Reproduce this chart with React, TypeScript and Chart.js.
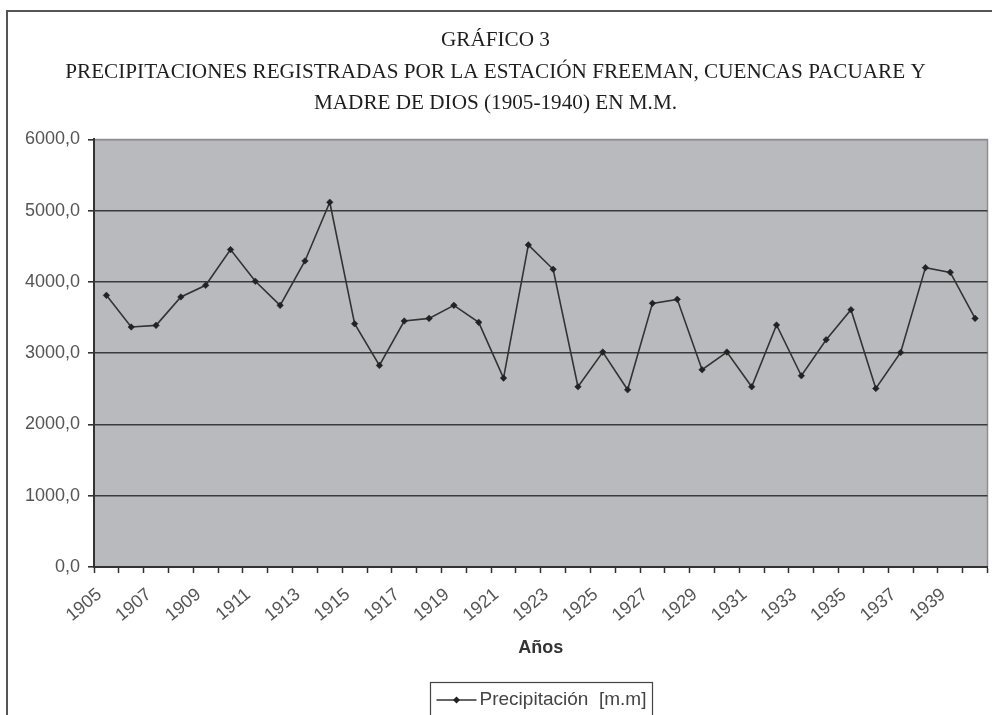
import React, { useEffect, useRef } from 'react';
import { Chart, registerables } from 'chart.js';

Chart.register(...registerables);

const titleLines = [
  'GRÁFICO 3',
  'PRECIPITACIONES REGISTRADAS POR LA ESTACIÓN FREEMAN, CUENCAS PACUARE Y',
  'MADRE DE DIOS (1905-1940) EN M.M.',
];

const years = [
  '1905', '1906', '1907', '1908', '1909', '1910', '1911', '1912', '1913', '1914',
  '1915', '1916', '1917', '1918', '1919', '1920', '1921', '1922', '1923', '1924',
  '1925', '1926', '1927', '1928', '1929', '1930', '1931', '1932', '1933', '1934',
  '1935', '1936', '1937', '1938', '1939', '1940',
];

const shownYears = [
  '1905', '1907', '1909', '1911', '1913', '1915', '1917', '1919', '1921',
  '1923', '1925', '1927', '1929', '1931', '1933', '1935', '1937', '1939',
];

const precipitation = [
  3812, 3368, 3391, 3790, 3953, 4454, 4009, 3672, 4295, 5119,
  3414, 2829, 3452, 3489, 3672, 3433, 2651, 4520, 4178, 2529,
  3016, 2487, 3700, 3756, 2768, 3016, 2529, 3396, 2684, 3190,
  3611, 2505, 3011, 4201, 4135, 3489,
];

const yTicks = [0, 1000, 2000, 3000, 4000, 5000, 6000];

const seriesLabel = 'Precipitación  [m.m]';
const xAxisTitle = 'Años';

const SANS = '"Liberation Sans", Arial, sans-serif';
const SERIF = '"Liberation Serif", "Times New Roman", serif';

const framePlugin = {
  id: 'framePlugin',
  beforeDraw(chart: any) {
    const { ctx, chartArea } = chart;
    ctx.save();
    // outer frame (only left and top visible)
    ctx.strokeStyle = '#555555';
    ctx.lineWidth = 2;
    ctx.strokeRect(7, 11, 1200, 1000);
    // plot background
    ctx.fillStyle = '#b9babe';
    ctx.fillRect(chartArea.left, chartArea.top, chartArea.right - chartArea.left, chartArea.bottom - chartArea.top);
    ctx.strokeStyle = '#8e8e90';
    ctx.lineWidth = 1.5;
    ctx.beginPath();
    ctx.moveTo(chartArea.left, chartArea.top);
    ctx.lineTo(chartArea.right, chartArea.top);
    ctx.lineTo(chartArea.right, chartArea.bottom);
    ctx.stroke();
    ctx.restore();
  },
  afterDraw(chart: any) {
    const { ctx, chartArea } = chart;
    const ds = chart.data.datasets[0];
    ctx.save();
    ctx.font = `19px ${SANS}`;
    const rawW = ctx.measureText(ds.label).width;
    const textW = 167;
    const sx = textW / rawW;
    const lineW = 40;
    const boxW = 6 + lineW + 3 + textW + 6;
    const boxH = 40;
    const boxX = Math.round((chartArea.left + chartArea.right) / 2 - boxW / 2) + 0.5;
    const boxY = 682.5;
    ctx.fillStyle = '#ffffff';
    ctx.fillRect(boxX, boxY, boxW, boxH);
    ctx.strokeStyle = '#444444';
    ctx.lineWidth = 1.2;
    ctx.strokeRect(boxX, boxY, boxW, boxH);
    const cy = 700;
    ctx.strokeStyle = ds.borderColor;
    ctx.lineWidth = 1.6;
    ctx.beginPath();
    ctx.moveTo(boxX + 6, cy);
    ctx.lineTo(boxX + 6 + lineW, cy);
    ctx.stroke();
    ctx.fillStyle = ds.pointBackgroundColor;
    ctx.beginPath();
    const mx = boxX + 6 + lineW / 2;
    ctx.moveTo(mx, cy - 3.5);
    ctx.lineTo(mx + 3.5, cy);
    ctx.lineTo(mx, cy + 3.5);
    ctx.lineTo(mx - 3.5, cy);
    ctx.closePath();
    ctx.fill();
    ctx.fillStyle = '#444444';
    ctx.textBaseline = 'middle';
    ctx.textAlign = 'left';
    ctx.translate(boxX + 6 + lineW + 3, cy);
    ctx.scale(sx, 1);
    ctx.fillText(ds.label, 0, 0);
    ctx.restore();
  },
};

export default function App() {
  const canvasRef = useRef<HTMLCanvasElement | null>(null);

  useEffect(() => {
    const canvas = canvasRef.current;
    if (!canvas) return;
    const chart = new Chart(canvas, {
      type: 'line',
      data: {
        labels: years,
        datasets: [
          {
            label: seriesLabel,
            data: precipitation,
            borderColor: '#333333',
            borderWidth: 1.6,
            pointStyle: 'rectRot',
            pointRadius: 3.3,
            pointBackgroundColor: '#222222',
            pointBorderColor: '#222222',
            pointBorderWidth: 0.5,
            tension: 0,
            fill: false,
          },
        ],
      },
      plugins: [framePlugin],
      options: {
        responsive: false,
        animation: false,
        devicePixelRatio: 1,
        layout: { padding: { top: 0, left: 0, right: 1, bottom: 48 } },
        plugins: {
          legend: { display: false },
          tooltip: { enabled: false },
          title: {
            display: true,
            text: titleLines,
            color: '#1e1e1e',
            font: { family: SERIF, size: 21.2, weight: 'normal', lineHeight: 1.485 },
            padding: { top: 25, bottom: 20 },
          },
        },
        scales: {
          x: {
            type: 'category',
            offset: true,
            afterFit: (scale: any) => {
              scale.height = 100;
              scale.paddingRight = 0;
              scale.paddingLeft = 0;
            },
            grid: {
              display: true,
              offset: true,
              drawOnChartArea: false,
              drawTicks: true,
              tickLength: 6,
              tickColor: '#333333',
              tickWidth: 1.5,
            },
            border: { display: true, color: '#333333', width: 2 },
            ticks: {
              autoSkip: false,
              minRotation: 40,
              maxRotation: 40,
              padding: 11,
              labelOffset: -7,
              color: '#555555',
              font: { family: SANS, size: 18 },
              callback: (_v: any, i: number) => (shownYears.includes(years[i]) ? years[i] : ''),
            },
            title: {
              display: true,
              text: xAxisTitle,
              color: '#333333',
              font: { family: SANS, size: 18, weight: 'bold' },
              padding: { top: 4, bottom: 8 },
            },
          },
          y: {
            min: yTicks[0],
            max: yTicks[yTicks.length - 1],
            afterFit: (scale: any) => {
              scale.width = 94;
            },
            afterBuildTicks: (scale: any) => {
              scale.ticks = yTicks.map((v) => ({ value: v }));
            },
            grid: {
              color: (c: any) => (c.tick && c.tick.value === yTicks[yTicks.length - 1] ? '#8e8e90' : '#3a3a3a'),
              lineWidth: 1.6,
              drawTicks: true,
              tickLength: 6,
              tickColor: '#333333',
            },
            border: { display: true, color: '#333333', width: 2 },
            ticks: {
              padding: 8,
              color: '#555555',
              font: { family: SANS, size: 18 },
              callback: (v: any) => Number(v).toFixed(1).replace('.', ','),
            },
          },
        },
      },
    });
    return () => chart.destroy();
  }, []);

  return (
    <div style={{ position: 'fixed', left: 0, top: 0, width: 992, height: 715, background: '#ffffff' }}>
      <canvas ref={canvasRef} width={992} height={715} />
    </div>
  );
}
